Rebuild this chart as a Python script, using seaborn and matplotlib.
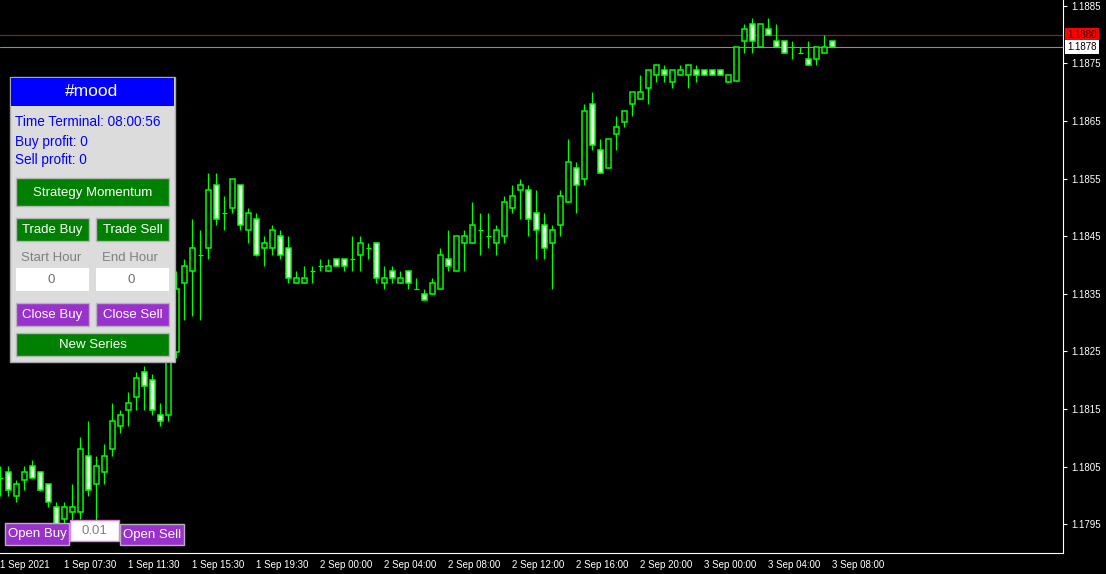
import matplotlib
matplotlib.use('Agg')
import matplotlib.pyplot as plt
from matplotlib.patches import Rectangle
import seaborn as sns

# EURUSD M30 candles, 1 Sep 2021 -> 3 Sep 2021 08:00
opens = [1.18030, 1.18040, 1.17999, 1.18027, 1.18051, 1.18040, 1.18019, 1.17979, 1.17959, 1.17971,
         1.17971, 1.18069, 1.18019, 1.18040, 1.18080, 1.18120, 1.18149, 1.18170, 1.18214, 1.18200,
         1.18139, 1.18139, 1.18249, 1.18369, 1.18389, 1.18418, 1.18429, 1.18538, 1.18490, 1.18499,
         1.18538, 1.18460, 1.18479, 1.18429, 1.18429, 1.18450, 1.18429, 1.18369, 1.18369, 1.18389,
         1.18399, 1.18389, 1.18410, 1.18410, 1.18410, 1.18418, 1.18429, 1.18439, 1.18369, 1.18389,
         1.18369, 1.18389, 1.18359, 1.18349, 1.18349, 1.18359, 1.18410, 1.18389, 1.18439, 1.18439,
         1.18460, 1.18450, 1.18439, 1.18450, 1.18499, 1.18530, 1.18530, 1.18490, 1.18469, 1.18439,
         1.18469, 1.18509, 1.18569, 1.18549, 1.18679, 1.18599, 1.18569, 1.18628, 1.18649, 1.18679,
         1.18689, 1.18708, 1.18729, 1.18738, 1.18718, 1.18729, 1.18729, 1.18738, 1.18738, 1.18738,
         1.18738, 1.18718, 1.18719, 1.18788, 1.18818, 1.18778, 1.18809, 1.18788, 1.18788, 1.18778,
         1.18768, 1.18758, 1.18758, 1.18768, 1.18788]
highs = [1.18051, 1.18051, 1.18026, 1.18051, 1.18061, 1.18043, 1.18019, 1.17989, 1.17989, 1.18019,
         1.18101, 1.18130, 1.18069, 1.18090, 1.18160, 1.18149, 1.18179, 1.18214, 1.18224, 1.18210,
         1.18160, 1.18261, 1.18389, 1.18410, 1.18479, 1.18460, 1.18559, 1.18559, 1.18519, 1.18549,
         1.18538, 1.18499, 1.18490, 1.18450, 1.18469, 1.18460, 1.18450, 1.18389, 1.18399, 1.18399,
         1.18410, 1.18410, 1.18410, 1.18410, 1.18450, 1.18450, 1.18439, 1.18439, 1.18399, 1.18399,
         1.18389, 1.18389, 1.18378, 1.18359, 1.18378, 1.18429, 1.18460, 1.18450, 1.18460, 1.18509,
         1.18490, 1.18490, 1.18469, 1.18519, 1.18538, 1.18549, 1.18538, 1.18530, 1.18490, 1.18469,
         1.18530, 1.18618, 1.18578, 1.18679, 1.18700, 1.18618, 1.18618, 1.18659, 1.18668, 1.18700,
         1.18730, 1.18738, 1.18748, 1.18748, 1.18738, 1.18748, 1.18748, 1.18748, 1.18738, 1.18738,
         1.18738, 1.18729, 1.18778, 1.18818, 1.18829, 1.18818, 1.18829, 1.18818, 1.18788, 1.18788,
         1.18778, 1.18788, 1.18778, 1.18799, 1.18788]
lows = [1.17999, 1.17999, 1.17989, 1.18010, 1.18030, 1.18007, 1.17979, 1.17939, 1.17939, 1.17931,
        1.17959, 1.17999, 1.17948, 1.18019, 1.18069, 1.18109, 1.18120, 1.18149, 1.18149, 1.18139,
        1.18120, 1.18130, 1.18238, 1.18304, 1.18311, 1.18304, 1.18410, 1.18469, 1.18460, 1.18490,
        1.18460, 1.18439, 1.18415, 1.18399, 1.18418, 1.18410, 1.18369, 1.18369, 1.18369, 1.18369,
        1.18389, 1.18389, 1.18399, 1.18389, 1.18389, 1.18389, 1.18410, 1.18369, 1.18359, 1.18369,
        1.18369, 1.18359, 1.18359, 1.18339, 1.18349, 1.18359, 1.18389, 1.18389, 1.18389, 1.18439,
        1.18418, 1.18429, 1.18418, 1.18439, 1.18490, 1.18479, 1.18450, 1.18410, 1.18410, 1.18359,
        1.18450, 1.18509, 1.18490, 1.18538, 1.18599, 1.18559, 1.18569, 1.18599, 1.18639, 1.18659,
        1.18689, 1.18679, 1.18718, 1.18718, 1.18708, 1.18729, 1.18708, 1.18718, 1.18729, 1.18729,
        1.18729, 1.18718, 1.18719, 1.18768, 1.18768, 1.18778, 1.18799, 1.18778, 1.18768, 1.18758,
        1.18768, 1.18748, 1.18748, 1.18768, 1.18778]
closes = [1.18030, 1.18010, 1.18019, 1.18040, 1.18030, 1.18010, 1.17989, 1.17948, 1.17979, 1.17979,
          1.18080, 1.18010, 1.18051, 1.18069, 1.18130, 1.18139, 1.18160, 1.18204, 1.18190, 1.18149,
          1.18130, 1.18249, 1.18359, 1.18399, 1.18429, 1.18418, 1.18530, 1.18479, 1.18490, 1.18549,
          1.18469, 1.18490, 1.18418, 1.18439, 1.18460, 1.18418, 1.18378, 1.18378, 1.18378, 1.18389,
          1.18399, 1.18399, 1.18399, 1.18399, 1.18410, 1.18439, 1.18429, 1.18378, 1.18378, 1.18378,
          1.18378, 1.18369, 1.18359, 1.18339, 1.18369, 1.18418, 1.18399, 1.18450, 1.18450, 1.18469,
          1.18460, 1.18450, 1.18460, 1.18509, 1.18519, 1.18538, 1.18479, 1.18460, 1.18429, 1.18460,
          1.18519, 1.18578, 1.18538, 1.18668, 1.18609, 1.18559, 1.18618, 1.18639, 1.18668, 1.18700,
          1.18700, 1.18738, 1.18748, 1.18729, 1.18738, 1.18738, 1.18748, 1.18729, 1.18729, 1.18729,
          1.18729, 1.18729, 1.18778, 1.18809, 1.18788, 1.18818, 1.18799, 1.18778, 1.18768, 1.18778,
          1.18768, 1.18748, 1.18778, 1.18778, 1.18778]

time_ticks = [0, 8, 16, 24, 32, 40, 48, 56, 64, 72, 80, 88, 96, 104]
time_labels = ['1 Sep 2021', '1 Sep 07:30', '1 Sep 11:30', '1 Sep 15:30', '1 Sep 19:30',
               '2 Sep 00:00', '2 Sep 04:00', '2 Sep 08:00', '2 Sep 12:00', '2 Sep 16:00',
               '2 Sep 20:00', '3 Sep 00:00', '3 Sep 04:00', '3 Sep 08:00']
price_ticks = [1.1795, 1.1805, 1.1815, 1.1825, 1.1835, 1.1845, 1.1855, 1.1865, 1.1875, 1.1885]
ask_price = 1.18800
bid_price = 1.18778

sns.set_theme(style='dark', rc={'axes.facecolor': 'black', 'figure.facecolor': 'black',
                                'axes.grid': False})
plt.rcParams['font.family'] = ['Liberation Sans', 'DejaVu Sans']

W, H = 1106, 574
fig = plt.figure(figsize=(W / 100, H / 100), dpi=100)
ax = fig.add_axes([0, 21 / H, 1063 / W, 553 / H])

green = '#00ff00'
for i in range(len(opens)):
    o, h, l, c = opens[i], highs[i], lows[i], closes[i]
    ax.vlines(i, l, h, color=green, lw=0.9, zorder=2)
    if abs(c - o) < 1e-6:
        ax.hlines(o, i - 0.32, i + 0.32, color=green, lw=0.9, zorder=3)
    else:
        fill = 'black' if c > o else 'white'
        ax.bar(i, abs(c - o), bottom=min(o, c), width=0.6, color=fill,
               edgecolor=green, linewidth=1.1, zorder=3)

# ask / bid lines
ax.axhline(ask_price, color='#e00000', lw=0.8, zorder=1)
ax.axhline(bid_price, color='#8c8c8c', lw=0.8, zorder=1)

ax.set_xlim(-0.04, 132.84)
ax.set_ylim(1.17900, 1.18860)

for s in ['left', 'top']:
    ax.spines[s].set_visible(False)
for s in ['right', 'bottom']:
    ax.spines[s].set_color('white')
    ax.spines[s].set_linewidth(0.8)

ax.yaxis.tick_right()
ax.set_yticks(price_ticks, [f'{p:.4f}' for p in price_ticks])
ax.set_xticks(time_ticks, time_labels, ha='left')
ax.tick_params(axis='y', colors='white', length=3, width=0.8, labelsize=7, pad=3)
ax.tick_params(axis='x', colors='white', length=3, width=0.8, labelsize=7, pad=2)

ax.annotate(f'{ask_price:.4f}', xy=(1.0, ask_price), xycoords=('axes fraction', 'data'),
            xytext=(3, 0), textcoords='offset points', va='center', ha='left', fontsize=7,
            color='#400000', bbox=dict(boxstyle='square,pad=0.2', fc='#ff0000', ec='none'))
ax.annotate(f'{bid_price:.4f}', xy=(1.0, bid_price), xycoords=('axes fraction', 'data'),
            xytext=(3, 0), textcoords='offset points', va='center', ha='left', fontsize=7,
            color='black', bbox=dict(boxstyle='square,pad=0.2', fc='white', ec='none'))


# ---- trading panel overlay (pixel layout) ----
def box(x0, y0, x1, y1, fc, ec=None, lw=0.0):
    fig.add_artist(Rectangle((x0 / W, 1 - y1 / H), (x1 - x0) / W, (y1 - y0) / H,
                             transform=fig.transFigure, facecolor=fc,
                             edgecolor=ec if ec else fc, linewidth=lw, zorder=5))


def label(x, y, s, color, size=9.5, ha='center'):
    fig.text(x / W, 1 - y / H, s, color=color, fontsize=size, ha=ha, va='center',
             family=['Liberation Sans', 'DejaVu Sans'], zorder=6)


def button(x0, y0, x1, y1, fc, s):
    box(x0, y0, x1, y1, fc, '#b4b4b4', 1.0)
    label((x0 + x1) / 2, (y0 + y1) / 2 + 0.5, s, 'white')


box(10, 77, 175, 362, '#dcdcdc', '#a8a8a8', 1.0)
box(11, 78, 174, 106, '#0000ff')
label(92, 92, '#mood', 'white', 12.5)
label(15, 122, 'Time Terminal: 08:00:56', '#0000ff', 9.8, ha='left')
label(15, 142, 'Buy profit: 0', '#0000ff', 9.8, ha='left')
label(15, 160, 'Sell profit: 0', '#0000ff', 9.8, ha='left')
button(16, 178, 169, 206, '#008000', 'Strategy Momentum')
button(16, 218, 89, 241, '#008000', 'Trade Buy')
button(96, 218, 169, 241, '#008000', 'Trade Sell')
label(51, 258, 'Start Hour', '#808080')
label(130, 258, 'End Hour', '#808080')
box(16, 268, 89, 291, 'white')
box(96, 268, 169, 291, 'white')
label(51, 280, '0', '#707070')
label(131, 280, '0', '#707070')
button(16, 303, 89, 326, '#9932cc', 'Close Buy')
button(96, 303, 169, 326, '#9932cc', 'Close Sell')
button(16, 333, 169, 356, '#008000', 'New Series')

button(5, 523, 69, 545, '#9932cc', 'Open Buy')
box(70, 520, 119, 541, 'white', '#e080e0', 1.0)
label(94, 531, '0.01', '#808080')
button(120, 524, 184, 545, '#9932cc', 'Open Sell')

fig.savefig('out.png', dpi=100, facecolor='black')
